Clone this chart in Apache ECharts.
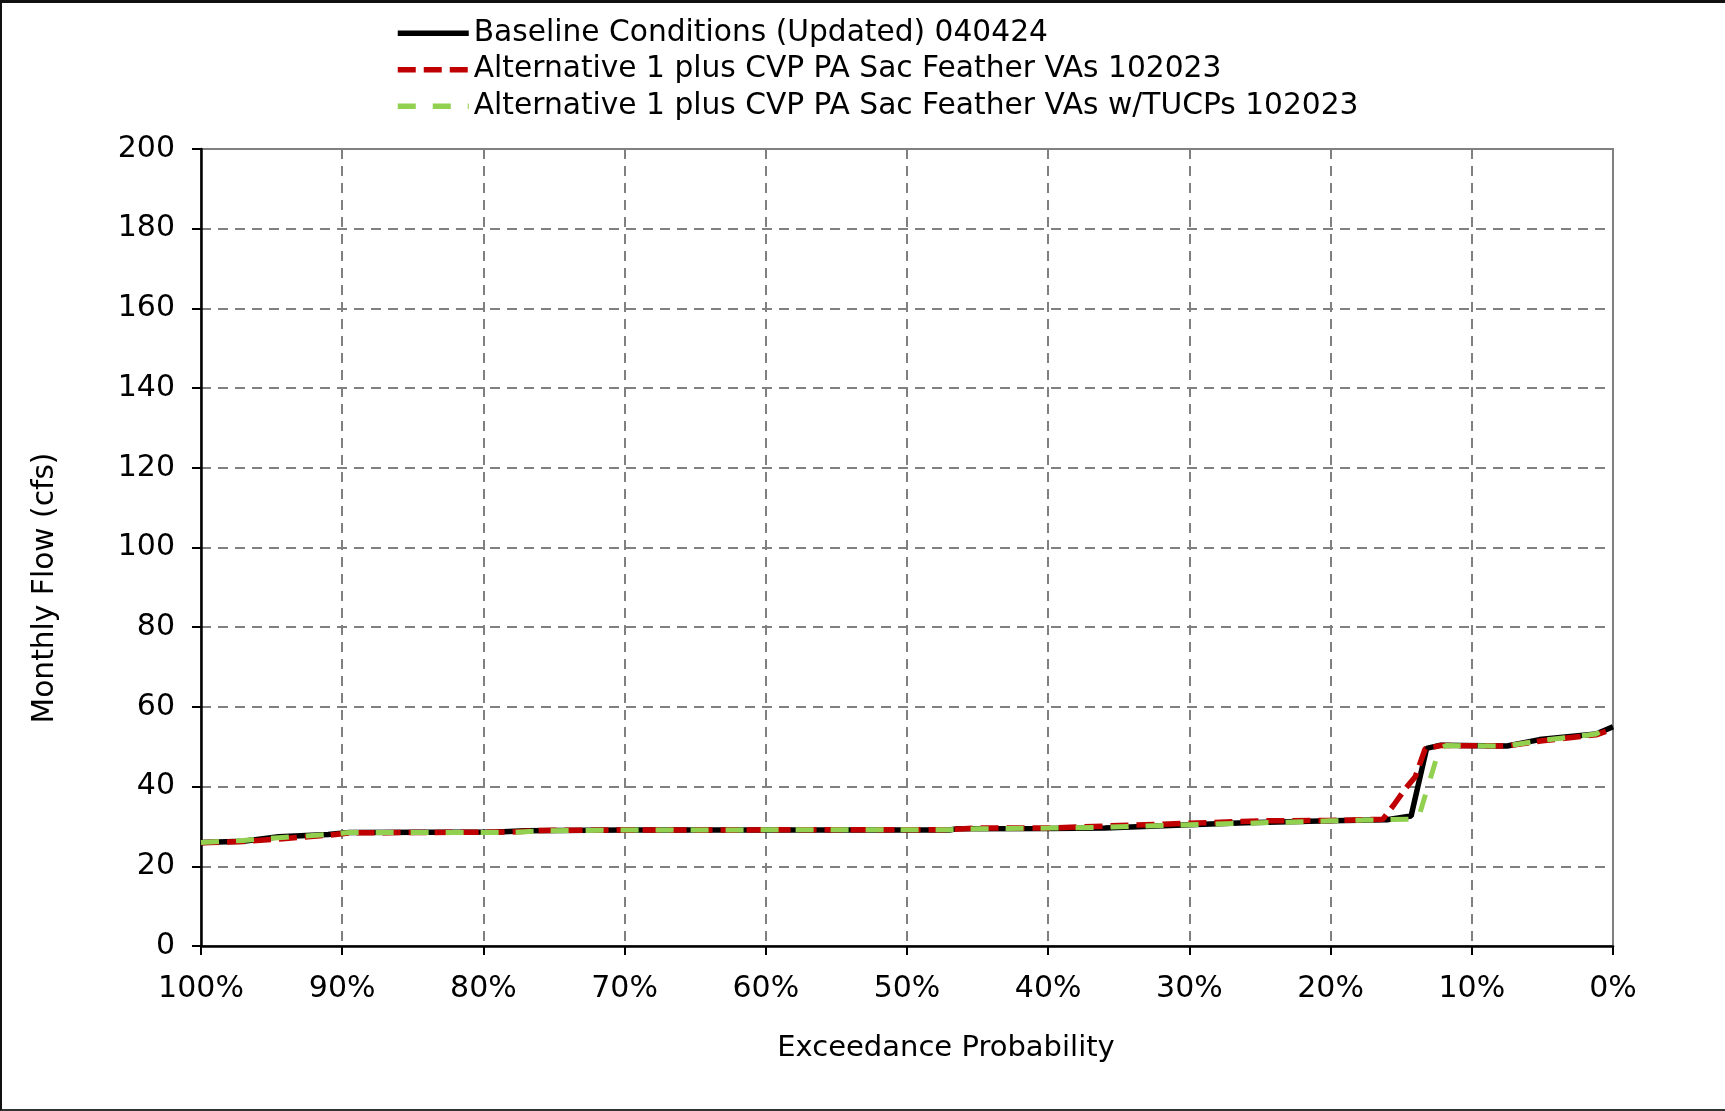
<!DOCTYPE html>
<html>
<head>
<meta charset="utf-8">
<title>Monthly Flow Exceedance</title>
<script src="https://cdn.jsdelivr.net/npm/echarts@6/dist/echarts.min.js"></script>
<style>
  html, body { margin: 0; padding: 0; background: #fff; }
  #chart { position: absolute; left: 0; top: 0; width: 1725px; height: 1111px; }
  #frame {
    position: absolute; left: 0; top: 0; width: 1725px; height: 1111px;
    box-sizing: border-box; pointer-events: none;
    border-top: 3px solid #111; border-left: 2px solid #111; border-bottom: 2px solid #333;
  }
</style>
</head>
<body>
<div id="chart"></div>
<div id="frame"></div>
<script>
// Series names
const seriesNames = [
  'Baseline Conditions (Updated) 040424',
  'Alternative 1 plus CVP PA Sac Feather VAs 102023',
  'Alternative 1 plus CVP PA Sac Feather VAs w/TUCPs 102023'
];

// Exceedance probability (%) and monthly flow (cfs) for each scenario
const baseProb = [100, 97, 94.5, 91, 89.5, 79, 77, 70, 47, 46.5, 40, 36, 30, 26, 20, 16, 14.3, 13.2, 12.2, 7.5, 5.2, 1.2, 0];
const baseFlow = [26.0, 26.3, 27.4, 28.0, 28.5, 28.6, 28.9, 29.1, 29.1, 29.4, 29.5, 29.6, 30.4, 30.9, 31.4, 31.7, 32.6, 49.6, 50.4, 50.2, 51.8, 53.2, 55.0];

const alt1Prob = [100, 97, 94, 91, 89.5, 78, 76, 70, 47, 45, 40, 36, 30, 25, 20, 16.3, 15.5, 14.7, 14.0, 13.3, 12.2, 7.5, 5, 1.2, 0];
const alt1Flow = [25.9, 26.2, 27.0, 27.8, 28.4, 28.6, 29.0, 29.1, 29.2, 29.6, 29.6, 30.1, 30.8, 31.4, 31.5, 31.8, 35.5, 39.5, 42.5, 49.5, 50.3, 50.2, 51.5, 53.0, 54.5];

const tucpProb = [100, 97, 94, 91, 89.5, 78, 76, 70, 47, 45, 40, 36, 30, 25, 20, 16, 13.8, 12.3, 11.8, 7.5, 5, 1.2, 0];
const tucpFlow = [26.0, 26.5, 27.3, 28.0, 28.5, 28.5, 28.9, 29.1, 29.2, 29.4, 29.6, 29.8, 30.4, 30.9, 31.4, 31.7, 31.9, 49.5, 50.3, 50.2, 51.6, 53.2, 55.6];

// Axis settings
const yMin = 0, yMax = 200, yStep = 20;
const xMin = 0, xMax = 100, xStep = 10;

const FONT = "'DejaVu Sans', Verdana, sans-serif";

const pairs = (xs, ys) => xs.map((x, i) => [x, ys[i]]);

const gridDash = { color: '#808080', width: 2, type: [10, 7] };

const chart = echarts.init(document.getElementById('chart'), null, { renderer: 'canvas' });

chart.setOption({
  animation: false,
  backgroundColor: '#fff',
  textStyle: { fontFamily: FONT },
  grid: {
    left: 201, right: 112, top: 149, bottom: 165,
    show: true, borderColor: '#808080', borderWidth: 2, backgroundColor: 'transparent'
  },
  legend: {
    orient: 'vertical',
    left: 395, top: 15, padding: 0,
    itemWidth: 71, itemHeight: 14, itemGap: 0,
    itemStyle: { opacity: 0 },
    lineStyle: { width: 5.5 },
    textStyle: { fontFamily: FONT, fontSize: 29.7, lineHeight: 36.5, color: '#000' },
    data: seriesNames
  },
  xAxis: {
    type: 'value', inverse: true,
    min: xMin, max: xMax, interval: xStep,
    axisLine: { show: true, onZero: false, lineStyle: { color: '#000', width: 2.5 } },
    axisTick: { show: true, length: 9, lineStyle: { color: '#000', width: 2 } },
    axisLabel: { margin: 28, fontFamily: FONT, fontSize: 30, color: '#000', formatter: v => v + '%' },
    splitLine: { show: true, showMinLine: false, showMaxLine: false, lineStyle: gridDash }
  },
  yAxis: {
    type: 'value',
    min: yMin, max: yMax, interval: yStep,
    axisLine: { show: true, onZero: false, lineStyle: { color: '#000', width: 2.5 } },
    axisTick: { show: true, length: 9, lineStyle: { color: '#000', width: 2 } },
    axisLabel: { margin: 26, fontFamily: FONT, fontSize: 30, color: '#000' },
    splitLine: { show: true, showMinLine: false, showMaxLine: false, lineStyle: gridDash }
  },
  graphic: [
    {
      type: 'text', x: 45, y: 588, rotation: Math.PI / 2,
      style: { text: 'Monthly Flow (cfs)', font: '29.7px ' + FONT, fill: '#000', align: 'center', verticalAlign: 'middle' }
    },
    {
      type: 'text', x: 946, y: 1048,
      style: { text: 'Exceedance Probability', font: '29px ' + FONT, fill: '#000', align: 'center', verticalAlign: 'middle' }
    }
  ],
  series: [
    {
      name: seriesNames[0], type: 'line', symbol: 'none', z: 3,
      data: pairs(baseProb, baseFlow),
      lineStyle: { color: '#000000', width: 5.5, type: 'solid' },
      itemStyle: { color: '#000000' }
    },
    {
      name: seriesNames[1], type: 'line', symbol: 'none', z: 4,
      data: pairs(alt1Prob, alt1Flow),
      lineStyle: { color: '#C00000', width: 5.5, type: [18, 8] },
      itemStyle: { color: '#C00000' }
    },
    {
      name: seriesNames[2], type: 'line', symbol: 'none', z: 5,
      data: pairs(tucpProb, tucpFlow),
      lineStyle: { color: '#92D050', width: 5, type: [18, 17] },
      itemStyle: { color: '#92D050' }
    }
  ]
});
</script>
</body>
</html>
